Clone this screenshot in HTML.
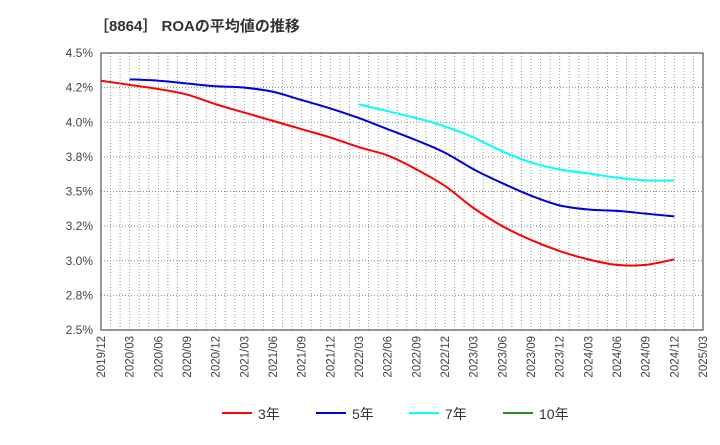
<!DOCTYPE html>
<html><head><meta charset="utf-8"><style>
body{margin:0;background:#fff;font-family:"Liberation Sans","Noto Sans CJK JP",sans-serif;}
</style></head><body>
<svg id="c" width="720" height="440" xmlns="http://www.w3.org/2000/svg">
<text x="94" y="31" font-size="15" font-weight="bold" fill="#333">［8864］ ROAの平均値の推移</text>
<g id="grid"></g><g id="axes"></g><g id="series"></g><g id="legend"></g>
</svg>
<script>
const categories=["2019/12","2020/03","2020/06","2020/09","2020/12","2021/03","2021/06","2021/09","2021/12","2022/03","2022/06","2022/09","2022/12","2023/03","2023/06","2023/09","2023/12","2024/03","2024/06","2024/09","2024/12","2025/03"];
const yTicks=[2.5,2.75,3.0,3.25,3.5,3.75,4.0,4.25,4.5];
const yTickLabels=["2.5%","2.8%","3.0%","3.2%","3.5%","3.8%","4.0%","4.2%","4.5%"];
const s3=[4.30,4.27,4.24,4.20,4.13,4.07,4.01,3.95,3.89,3.82,3.76,3.66,3.54,3.38,3.25,3.15,3.07,3.01,2.97,2.97,3.01];
const s5=[null,4.31,4.30,4.28,4.26,4.25,4.22,4.16,4.10,4.03,3.95,3.87,3.78,3.66,3.56,3.47,3.40,3.37,3.36,3.34,3.32];
const s7=[null,null,null,null,null,null,null,null,null,4.13,4.08,4.03,3.97,3.89,3.79,3.71,3.66,3.63,3.60,3.58,3.58];
const s10=[];
const NS="http://www.w3.org/2000/svg";
const L=101,R=703,T=53,B=330;
const xs=i=>L+i*(R-L)/(categories.length-1);
const ys=v=>B-(v-2.5)/2*(B-T);
function mk(tag,attrs,parent){const e=document.createElementNS(NS,tag);for(const k in attrs)e.setAttribute(k,attrs[k]);parent.appendChild(e);return e;}
const grid=document.getElementById('grid'),axes=document.getElementById('axes'),ser=document.getElementById('series'),leg=document.getElementById('legend');
for(let m=1;m<(categories.length-1)*3;m++){const x=L+m*(R-L)/((categories.length-1)*3);
const g=mk('line',{x1:x,x2:x,y1:T,y2:B,stroke:'#999','stroke-dasharray':'1,2','stroke-width':1},grid);

}
yTicks.forEach((v,i)=>{const y=ys(v);
if(i>0&&i<yTicks.length-1){const g=mk('line',{x1:L,x2:R,y1:y,y2:y,stroke:'#888','stroke-dasharray':'1,2'},grid);

}
const t=mk('text',{x:L-8,y:y+4,'text-anchor':'end','font-size':12,fill:'#444'},axes);t.textContent=yTickLabels[i];

});
const fr=mk('rect',{x:L,y:T,width:R-L,height:B-T,fill:'none',stroke:'#333'},axes);


categories.forEach((c,i)=>{const x=xs(i);const t=mk('text',{transform:`translate(${x+4},${B+6}) rotate(-90)`,'text-anchor':'end','font-size':11.5,fill:'#444'},axes);t.textContent=c;

});
function path(data){const p=[];data.forEach((v,i)=>{if(v!=null)p.push([xs(i),ys(v)]);});if(p.length<2)return '';
let d=`M${p[0][0]},${p[0][1]}`;for(let i=0;i<p.length-1;i++){const p0=p[i-1]||p[i],p1=p[i],p2=p[i+1],p3=p[i+2]||p2;
d+=` C${p1[0]+(p2[0]-p0[0])/6},${p1[1]+(p2[1]-p0[1])/6} ${p2[0]-(p3[0]-p1[0])/6},${p2[1]-(p3[1]-p1[1])/6} ${p2[0]},${p2[1]}`;}return d;}
const series=[[s3,'#ff0000','3年','series-3yr'],[s5,'#0000dd','5年','series-5yr'],[s7,'#00ffff','7年','series-7yr'],[s10,'#228b22','10年','series-10yr']];
series.forEach(([d,c,n,nm],k)=>{const pd=path(d);if(pd){const e=mk('path',{d:pd,fill:'none',stroke:c,'stroke-width':2},ser);

}
const lx=[222,316,409,503][k];
const g=mk('g',{},leg);


mk('line',{x1:lx,x2:lx+30,y1:413,y2:413,stroke:c,'stroke-width':2},g);
const t=mk('text',{x:lx+36,y:419,'font-size':14,fill:'#333'},g);t.textContent=n;});
</script>
</body></html>
